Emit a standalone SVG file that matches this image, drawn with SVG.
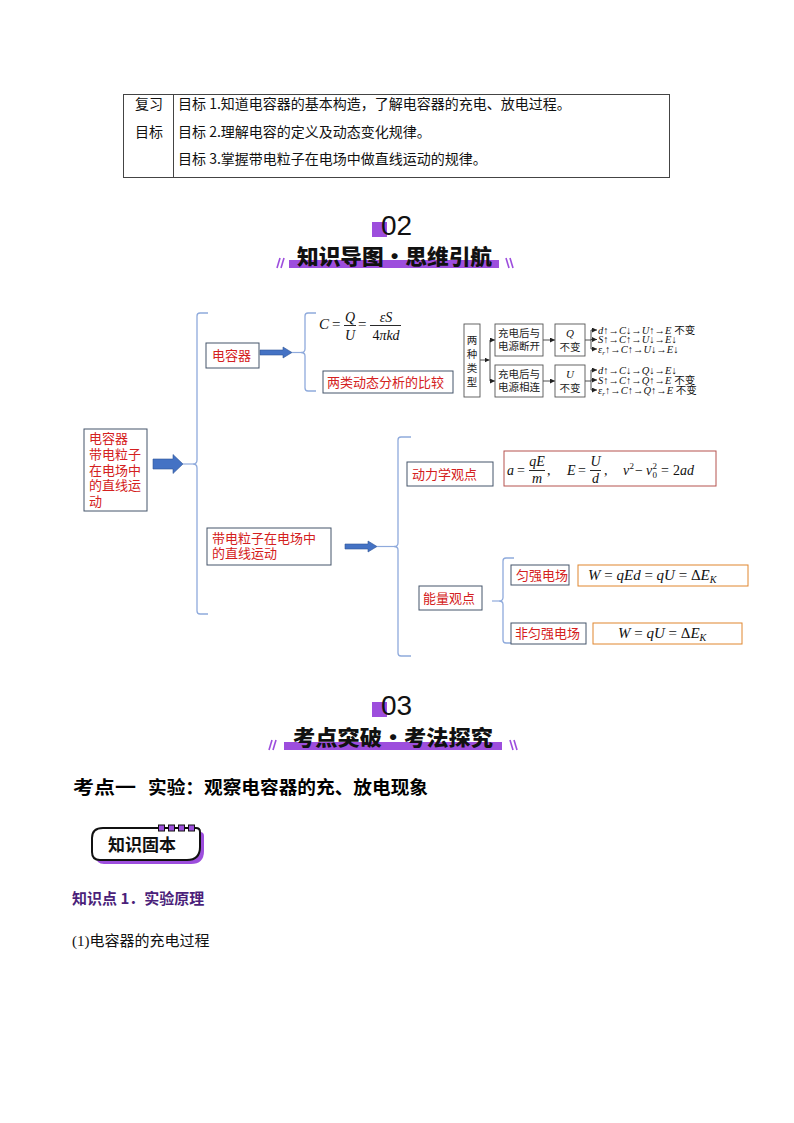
<svg xmlns="http://www.w3.org/2000/svg" width="794" height="1123" viewBox="0 0 794 1123">
<style>
.cn{font-family:"Noto Sans CJK SC","Liberation Sans",sans-serif;}
.tb{font-family:"Noto Sans CJK SC",sans-serif;font-size:14px;fill:#111}
.red{font-family:"Liberation Sans","Noto Sans CJK SC",sans-serif;font-size:13px;fill:#D42020}
.box{fill:#fff;stroke:#44546A;stroke-width:1}
.brace{fill:none;stroke:#8FAADC;stroke-width:1.3}
.blk{fill:#fff;stroke:#555;stroke-width:0.9}
.sm{font-family:"Noto Sans CJK SC",sans-serif;font-size:10.5px;fill:#222}
.m{font-family:"Liberation Serif","DejaVu Serif","Noto Sans CJK SC",serif;font-style:italic;fill:#111}
.n{font-style:normal}
.ln{stroke:#222;stroke-width:0.8;fill:none}
.fr{stroke:#111;stroke-width:0.9}
.barrow{fill:#4472C4;stroke:#2F5597;stroke-width:0.6}
.purple{fill:#9D4EDD}
.sl{stroke:#9D4EDD;stroke-width:1.6}
.hd{font-family:"Noto Sans CJK SC",sans-serif;font-weight:900;font-size:21px;fill:#111}
.num{font-family:"Liberation Sans",sans-serif;font-size:28px;fill:#111}
</style>
<defs>
<marker id="ah" viewBox="0 0 6 6" refX="6" refY="3" markerWidth="5" markerHeight="5" orient="auto" markerUnits="userSpaceOnUse">
<path d="M0,0 L6,3 L0,6 Z" fill="#222"/>
</marker>
</defs>
<rect width="794" height="1123" fill="#fff"/>

<!-- table -->
<g id="table">
<line x1="123" y1="94.5" x2="670" y2="94.5" stroke="#444" stroke-width="1"/>
<line x1="123" y1="177.5" x2="670" y2="177.5" stroke="#444" stroke-width="1"/>
<line x1="123.5" y1="94" x2="123.5" y2="178" stroke="#444" stroke-width="1"/>
<line x1="173.5" y1="94" x2="173.5" y2="178" stroke="#444" stroke-width="1"/>
<line x1="669.5" y1="94" x2="669.5" y2="178" stroke="#444" stroke-width="1"/>
<text class="tb" x="135" y="109">复习</text>
<text class="tb" x="135" y="137">目标</text>
<text class="tb" x="178" y="109">目标 1.知道电容器的基本构造，了解电容器的充电、放电过程。</text>
<text class="tb" x="178" y="137">目标 2.理解电容的定义及动态变化规律。</text>
<text class="tb" x="178" y="164">目标 3.掌握带电粒子在电场中做直线运动的规律。</text>
</g>

<!-- header 02 -->
<g id="header02">
<rect x="372" y="222" width="15" height="15" class="purple"/>
<text class="num" x="381" y="235">02</text>
<rect x="289" y="260" width="210" height="8" class="purple"/>
<text class="hd" x="297" y="264" textLength="195" lengthAdjust="spacingAndGlyphs">知识导图•思维引航</text>
<line class="sl" x1="277" y1="268" x2="280" y2="258"/>
<line class="sl" x1="281" y1="268" x2="284" y2="258"/>
<line class="sl" x1="506" y1="258" x2="509" y2="268"/>
<line class="sl" x1="510" y1="258" x2="513" y2="268"/>
</g>

<!-- connectors -->
<g id="connectors">
<path class="barrow" d="M153,459 H173 V454.5 L183,464 L173,473.5 V469 H153 Z"/>
<line x1="183" y1="464" x2="193" y2="464" stroke="#8FAADC" stroke-width="1.2"/>
<path class="brace" d="M208,313 H200 Q197,313 197,316 V460 Q197,464 193,464 Q197,464 197,468 V611 Q197,614 200,614 H208"/>
<path class="barrow" d="M260,350 H283 V347 L292,352.5 L283,358 V355 H260 Z"/>
<line x1="292" y1="352.5" x2="301" y2="352.5" stroke="#8FAADC" stroke-width="1.2"/>
<path class="brace" d="M316,313 H308 Q305,313 305,316 V349 Q305,352.5 301,352.5 Q305,352.5 305,356 V388 Q305,391 308,391 H316"/>
<path class="barrow" d="M345,544 H368 V541 L377,546.5 L368,552 V549 H345 Z"/>
<line x1="377" y1="546.5" x2="394" y2="546.5" stroke="#8FAADC" stroke-width="1.2"/>
<path class="brace" d="M411,437 H401 Q398,437 398,440 V543 Q398,546.5 394,546.5 Q398,546.5 398,550 V653 Q398,656 401,656 H411"/>
<line x1="492" y1="601" x2="499" y2="601" stroke="#8FAADC" stroke-width="1.2"/>
<path class="brace" d="M514,558 H506 Q503,558 503,561 V597.5 Q503,601 499,601 Q503,601 503,604.5 V640 Q503,643 506,643 H514"/>
<!-- right cluster -->
<line class="ln" x1="480" y1="360" x2="489.5" y2="360" marker-end="url(#ah)"/>
<line class="ln" x1="490" y1="340" x2="490" y2="381"/>
<line class="ln" x1="490" y1="340" x2="495" y2="340" marker-end="url(#ah)"/>
<line class="ln" x1="490" y1="381" x2="495" y2="381" marker-end="url(#ah)"/>
<line class="ln" x1="543" y1="340" x2="555" y2="340" marker-end="url(#ah)"/>
<line class="ln" x1="543" y1="381" x2="555" y2="381" marker-end="url(#ah)"/>
<line class="ln" x1="585" y1="340" x2="591" y2="340"/>
<line class="ln" x1="591" y1="330" x2="591" y2="349"/>
<line class="ln" x1="591" y1="330" x2="597" y2="330" marker-end="url(#ah)"/>
<line class="ln" x1="591" y1="339.5" x2="597" y2="339.5" marker-end="url(#ah)"/>
<line class="ln" x1="591" y1="349" x2="597" y2="349" marker-end="url(#ah)"/>
<line class="ln" x1="585" y1="381" x2="591" y2="381"/>
<line class="ln" x1="591" y1="370" x2="591" y2="390"/>
<line class="ln" x1="591" y1="370" x2="597" y2="370" marker-end="url(#ah)"/>
<line class="ln" x1="591" y1="380" x2="597" y2="380" marker-end="url(#ah)"/>
<line class="ln" x1="591" y1="390" x2="597" y2="390" marker-end="url(#ah)"/>
</g>

<!-- nodes -->
<g id="root">
<rect class="box" x="84" y="429" width="63" height="82"/>
<text class="red" x="89" y="443">电容器</text>
<text class="red" x="89" y="459">带电粒子</text>
<text class="red" x="89" y="474.5">在电场中</text>
<text class="red" x="89" y="490">的直线运</text>
<text class="red" x="89" y="506">动</text>
</g>
<g id="capacitor">
<rect class="box" x="206" y="343" width="53" height="25"/>
<text class="red" x="212" y="360">电容器</text>
</g>
<g id="cformula">
<text class="m" font-size="15" x="319" y="329">C</text>
<text class="m n" font-size="15" x="332" y="329">=</text>
<text class="m" font-size="14" x="350" y="322" text-anchor="middle">Q</text>
<line class="fr" x1="344" y1="325.5" x2="356" y2="325.5"/>
<text class="m" font-size="14" x="350" y="340" text-anchor="middle">U</text>
<text class="m n" font-size="15" x="358" y="329">=</text>
<text class="m" font-size="14" x="386" y="322" text-anchor="middle">εS</text>
<line class="fr" x1="370" y1="325.5" x2="401" y2="325.5"/>
<text class="m" font-size="14" x="386" y="340" text-anchor="middle"><tspan class="n">4</tspan>πkd</text>
</g>
<g id="compare">
<rect class="box" x="323" y="371" width="130" height="22"/>
<text class="red" x="327" y="387">两类动态分析的比较</text>
</g>
<g id="types">
<rect class="blk" x="464" y="324" width="16" height="73"/>
<text class="sm" x="472" y="344" text-anchor="middle">两</text>
<text class="sm" x="472" y="358" text-anchor="middle">种</text>
<text class="sm" x="472" y="372" text-anchor="middle">类</text>
<text class="sm" x="472" y="386" text-anchor="middle">型</text>
</g>
<g id="disconnect">
<rect class="blk" x="495" y="324" width="48" height="32"/>
<text class="sm" x="519" y="337" text-anchor="middle">充电后与</text>
<text class="sm" x="519" y="350" text-anchor="middle">电源断开</text>
</g>
<g id="connect">
<rect class="blk" x="495" y="365" width="48" height="32"/>
<text class="sm" x="519" y="378" text-anchor="middle">充电后与</text>
<text class="sm" x="519" y="391" text-anchor="middle">电源相连</text>
</g>
<g id="qconst">
<rect class="blk" x="555" y="324" width="30" height="32"/>
<text class="m" font-size="11" x="570" y="337" text-anchor="middle">Q</text>
<text class="sm" x="570" y="351" text-anchor="middle">不变</text>
</g>
<g id="uconst">
<rect class="blk" x="555" y="365" width="30" height="32"/>
<text class="m" font-size="11" x="570" y="378" text-anchor="middle">U</text>
<text class="sm" x="570" y="392" text-anchor="middle">不变</text>
</g>
<g id="chains" font-size="10.5">
<text class="m" x="598" y="333.5">d<tspan class="n">↑→</tspan>C<tspan class="n">↓→</tspan>U<tspan class="n">↑→</tspan>E<tspan class="n"> 不变</tspan></text>
<text class="m" x="598" y="343">S<tspan class="n">↑→</tspan>C<tspan class="n">↑→</tspan>U<tspan class="n">↓→</tspan>E<tspan class="n">↓</tspan></text>
<text class="m" x="598" y="352.5">ε<tspan font-size="7" dy="2">r</tspan><tspan class="n" dy="-2">↑→</tspan>C<tspan class="n">↑→</tspan>U<tspan class="n">↓→</tspan>E<tspan class="n">↓</tspan></text>
<text class="m" x="598" y="373.5">d<tspan class="n">↑→</tspan>C<tspan class="n">↓→</tspan>Q<tspan class="n">↓→</tspan>E<tspan class="n">↓</tspan></text>
<text class="m" x="598" y="383.5">S<tspan class="n">↑→</tspan>C<tspan class="n">↑→</tspan>Q<tspan class="n">↑→</tspan>E<tspan class="n"> 不变</tspan></text>
<text class="m" x="598" y="393.5">ε<tspan font-size="7" dy="2">r</tspan><tspan class="n" dy="-2">↑→</tspan>C<tspan class="n">↑→</tspan>Q<tspan class="n">↑→</tspan>E<tspan class="n"> 不变</tspan></text>
</g>
<g id="particle">
<rect class="box" x="207" y="528" width="124" height="37"/>
<text class="red" x="212" y="543">带电粒子在电场中</text>
<text class="red" x="212" y="558">的直线运动</text>
</g>
<g id="dynamics">
<rect class="box" x="407" y="462" width="86" height="24"/>
<text class="red" x="412" y="479">动力学观点</text>
</g>
<g id="dynformula">
<rect x="504" y="451" width="212" height="35" fill="#fff" stroke="#B5534F" stroke-width="1"/>
<text class="m" font-size="14" x="507" y="475">a</text>
<text class="m n" font-size="14" x="517" y="475">=</text>
<text class="m" font-size="14" x="537" y="466" text-anchor="middle">qE</text>
<line class="fr" x1="529" y1="470.5" x2="545" y2="470.5"/>
<text class="m" font-size="14" x="537" y="483" text-anchor="middle">m</text>
<text class="m n" font-size="14" x="547" y="475">,</text>
<text class="m" font-size="14" x="567" y="475">E</text>
<text class="m n" font-size="14" x="578" y="475">=</text>
<text class="m" font-size="14" x="595.5" y="466" text-anchor="middle">U</text>
<line class="fr" x1="590" y1="470.5" x2="601" y2="470.5"/>
<text class="m" font-size="14" x="595.5" y="483" text-anchor="middle">d</text>
<text class="m n" font-size="14" x="604" y="475">,</text>
<text class="m" font-size="14" x="623" y="475">v</text>
<text class="m n" font-size="9" x="629.5" y="469">2</text>
<text class="m n" font-size="14" x="635" y="475">−</text>
<text class="m" font-size="14" x="646" y="475">v</text>
<text class="m n" font-size="9" x="652.5" y="469">2</text>
<text class="m n" font-size="9" x="652.5" y="478">0</text>
<text class="m n" font-size="14" x="661" y="475">=</text>
<text class="m" font-size="14" x="673" y="475"><tspan class="n">2</tspan>ad</text>
</g>
<g id="energy">
<rect class="box" x="419" y="586" width="63" height="24"/>
<text class="red" x="423" y="603">能量观点</text>
</g>
<g id="uniform">
<rect class="box" x="511" y="565" width="58" height="20"/>
<text class="red" x="516" y="580">匀强电场</text>
</g>
<g id="uniformformula">
<rect x="578" y="565" width="170" height="21" fill="#fff" stroke="#E0862F" stroke-width="1"/>
<text class="m" font-size="15" x="588" y="580">W <tspan class="n">=</tspan> qEd <tspan class="n">=</tspan> qU <tspan class="n">=</tspan> <tspan class="n">Δ</tspan>E<tspan font-size="10" dy="3">K</tspan></text>
</g>
<g id="nonuniform">
<rect class="box" x="511" y="623" width="75" height="21"/>
<text class="red" x="515" y="638">非匀强电场</text>
</g>
<g id="nonuniformformula">
<rect x="593" y="623" width="149" height="21" fill="#fff" stroke="#E0862F" stroke-width="1"/>
<text class="m" font-size="15" x="618" y="638">W <tspan class="n">=</tspan> qU <tspan class="n">=</tspan> <tspan class="n">Δ</tspan>E<tspan font-size="10" dy="3">K</tspan></text>
</g>

<!-- header 03 -->
<g id="header03">
<rect x="372" y="702" width="15" height="15" class="purple"/>
<text class="num" x="381" y="715">03</text>
<rect x="284" y="742" width="218" height="8" class="purple"/>
<text class="hd" x="293" y="745" textLength="200" lengthAdjust="spacingAndGlyphs">考点突破•考法探究</text>
<line class="sl" x1="269" y1="750" x2="272" y2="740"/>
<line class="sl" x1="273" y1="750" x2="276" y2="740"/>
<line class="sl" x1="510" y1="740" x2="513" y2="750"/>
<line class="sl" x1="514" y1="740" x2="517" y2="750"/>
</g>

<g id="section1">
<text class="cn" font-weight="bold" font-size="18" x="73" y="794" textLength="63" lengthAdjust="spacingAndGlyphs">考点一</text>
<text class="cn" font-weight="bold" font-size="18" x="148" y="794" textLength="280" lengthAdjust="spacingAndGlyphs">实验：观察电容器的充、放电现象</text>
</g>

<g id="badge">
<path d="M107,832 H200 Q204,832 204,836 V851 Q204,864 191,864 H104 Q96,864 96,856 V842 Q96,832 107,832 Z" fill="#9D4EDD"/>
<path d="M103,828 H196 Q200,828 200,832 V847 Q200,860 187,860 H100 Q92,860 92,852 V838 Q92,828 103,828 Z" fill="#fff" stroke="#111" stroke-width="2"/>
<line x1="160" y1="828" x2="195" y2="828" stroke="#111" stroke-width="1.5"/>
<rect x="158.5" y="825" width="6" height="6" fill="#9D4EDD" stroke="#111" stroke-width="1"/>
<rect x="168.5" y="825" width="6" height="6" fill="#9D4EDD" stroke="#111" stroke-width="1"/>
<rect x="178.5" y="825" width="6" height="6" fill="#9D4EDD" stroke="#111" stroke-width="1"/>
<rect x="188.5" y="825" width="6" height="6" fill="#9D4EDD" stroke="#111" stroke-width="1"/>
<text class="cn" font-weight="bold" font-size="17" x="108" y="851" fill="#111">知识固本</text>
</g>

<g id="point1">
<text class="cn" font-weight="bold" font-size="15" x="72" y="904" fill="#4B1F7A">知识点 1．实验原理</text>
</g>
<g id="sub1">
<text font-family="Liberation Serif,Noto Sans CJK SC,serif" font-size="15" x="72" y="946" fill="#111">(1)<tspan font-family="Noto Sans CJK SC,sans-serif">电容器的充电过程</tspan></text>
</g>
</svg>
